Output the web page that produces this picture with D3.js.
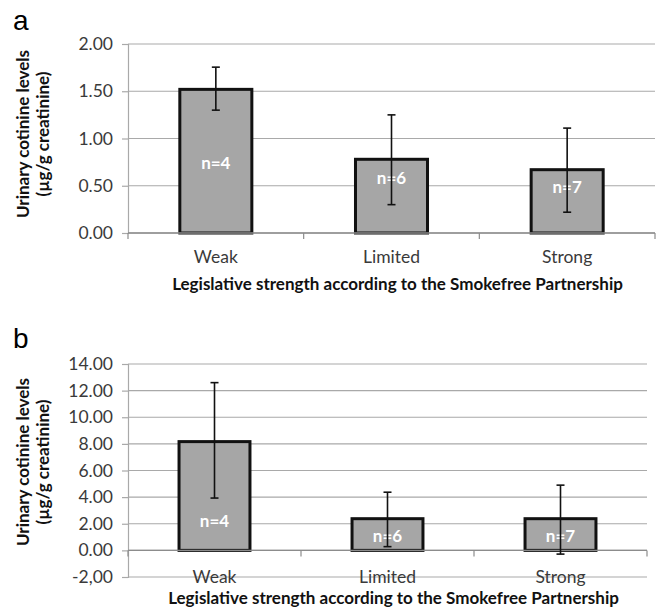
<!DOCTYPE html>
<html>
<head>
<meta charset="utf-8">
<script src="https://cdn.jsdelivr.net/npm/d3@7"></script>
<style>
  html, body { margin: 0; padding: 0; background: #fff; }
  svg { display: block; }
  text { font-family: Lato, "Open Sans", sans-serif; }
</style>
</head>
<body>
<svg id="chart" width="660" height="608"></svg>
<script>
// Urinary cotinine by legislative strength (two panels)
const categories = ["Weak", "Limited", "Strong"];
const sampleLabels = ["n=4", "n=6", "n=7"];

// Panel a
const meansA = [1.52, 0.78, 0.67];
const upperA = [1.755, 1.25, 1.11];
const lowerA = [1.30, 0.30, 0.22];
const labelAtA = [0.74, 0.58, 0.49];
const tickValuesA = [0, 0.5, 1, 1.5, 2];
const tickLabelsA = ["0.00", "0.50", "1.00", "1.50", "2.00"];

// Panel b
const meansB = [8.17, 2.38, 2.38];
const upperB = [12.6, 4.37, 4.9];
const lowerB = [3.93, 0.28, -0.28];
const labelAtB = [2.2, 1.07, 1.07];
const tickValuesB = [-2, 0, 2, 4, 6, 8, 10, 12, 14];
const tickLabelsB = ["-2,00", "0.00", "2.00", "4.00", "6.00", "8.00", "10.00", "12.00", "14.00"];

const yTitle1 = "Urinary cotinine levels";
const yTitle2 = "(\u00b5g/g creatinine)";
const xTitle = "Legislative strength according to the Smokefree Partnership";

const svg = d3.select("#chart");

function drawPanel(opt) {
  const g = svg.append("g");
  const x = d3.scaleBand().domain(categories)
    .range([opt.left, opt.right])
    .paddingInner(0.59).paddingOuter(0.295);
  const y = d3.scaleLinear().domain(opt.domain).range([opt.bottom, opt.top]);

  // gridlines
  g.append("g").selectAll("line").data(opt.ticks).join("line")
    .attr("x1", opt.left).attr("x2", opt.right)
    .attr("y1", d => y(d)).attr("y2", d => y(d))
    .attr("stroke", "#a9a9a9").attr("stroke-width", 1.2);

  // value axis
  const yAxis = d3.axisLeft(y).tickValues(opt.ticks).tickSize(6).tickPadding(9)
    .tickFormat((d, i) => opt.tickLabels[i]);
  const ya = g.append("g").attr("transform", `translate(${opt.left},0)`).call(yAxis);
  ya.select(".domain").attr("stroke", "#a9a9a9").attr("stroke-width", 1.2);
  ya.selectAll(".tick line").attr("stroke", "#a9a9a9").attr("stroke-width", 1.2);
  ya.selectAll(".tick text").attr("fill", "#3a3a3a")
    .style("font-size", "17.5px").style("font-family", "Lato, sans-serif");

  // bars
  g.append("g").selectAll("rect").data(categories).join("rect")
    .attr("x", d => x(d))
    .attr("width", x.bandwidth())
    .attr("y", (d, i) => y(opt.means[i]))
    .attr("height", (d, i) => y(0) - y(opt.means[i]))
    .attr("fill", "#a6a6a6")
    .attr("stroke", "#111").attr("stroke-width", 3);

  // category axis at zero
  const y0 = y(0);
  g.append("line").attr("x1", opt.left).attr("x2", opt.right)
    .attr("y1", y0).attr("y2", y0)
    .attr("stroke", "#8c8c8c").attr("stroke-width", 1.4);
  const bounds = d3.range(categories.length + 1).map(i => opt.left + i * x.step());
  g.append("g").selectAll("line").data(bounds).join("line")
    .attr("x1", d => d).attr("x2", d => d)
    .attr("y1", y0).attr("y2", y0 + 6)
    .attr("stroke", "#8c8c8c").attr("stroke-width", 1.2);

  // sample size labels
  g.append("g").selectAll("text").data(sampleLabels).join("text")
    .attr("x", (d, i) => x(categories[i]) + x.bandwidth() / 2)
    .attr("y", (d, i) => y(opt.labelAt[i]))
    .attr("dy", "0.35em")
    .attr("text-anchor", "middle")
    .attr("fill", "#fff")
    .style("font-size", "17px").style("font-weight", "bold")
    .text(d => d);

  // error bars
  const eb = g.append("g").attr("stroke", "#111").attr("stroke-width", 1.6);
  categories.forEach((c, i) => {
    const cx = x(c) + x.bandwidth() / 2;
    eb.append("line").attr("x1", cx).attr("x2", cx)
      .attr("y1", y(opt.upper[i])).attr("y2", y(opt.lower[i]));
    [opt.upper[i], opt.lower[i]].forEach(v => {
      eb.append("line").attr("x1", cx - 4).attr("x2", cx + 4)
        .attr("y1", y(v)).attr("y2", y(v));
    });
  });

  // category labels
  g.append("g").selectAll("text").data(categories).join("text")
    .attr("x", d => x(d) + x.bandwidth() / 2)
    .attr("y", opt.catLabelY)
    .attr("text-anchor", "middle")
    .attr("fill", "#3a3a3a")
    .style("font-size", "17.5px")
    .text(d => d);

  // axis titles
  g.append("text")
    .attr("x", (opt.left + opt.right) / 2 + 6)
    .attr("y", opt.xTitleY)
    .attr("text-anchor", "middle")
    .attr("fill", "#111")
    .style("font-size", "17px").style("font-weight", "bold")
    .text(xTitle);

  const cy = opt.yTitleCenter;
  g.append("text")
    .attr("transform", `translate(29,${cy}) rotate(-90)`)
    .attr("text-anchor", "middle")
    .attr("fill", "#111")
    .style("font-size", "17px").style("font-weight", "bold")
    .text(yTitle1);
  g.append("text")
    .attr("transform", `translate(49,${cy}) rotate(-90)`)
    .attr("text-anchor", "middle")
    .attr("fill", "#111")
    .style("font-size", "17px").style("font-weight", "bold")
    .text(yTitle2);

  // panel letter
  g.append("text")
    .attr("x", opt.letterX).attr("y", opt.letterY)
    .attr("fill", "#000")
    .style("font-family", "'Liberation Sans', Arial, sans-serif")
    .style("font-size", "28px")
    .text(opt.letter);
}

drawPanel({
  letter: "a", letterX: 13, letterY: 30,
  left: 128, right: 655, top: 44, bottom: 233,
  domain: [0, 2], ticks: tickValuesA, tickLabels: tickLabelsA,
  means: meansA, upper: upperA, lower: lowerA, labelAt: labelAtA,
  catLabelY: 263, xTitleY: 290, yTitleCenter: 134
});

drawPanel({
  letter: "b", letterX: 13, letterY: 348,
  left: 128, right: 647, top: 364, bottom: 577,
  domain: [-2, 14], ticks: tickValuesB, tickLabels: tickLabelsB,
  means: meansB, upper: upperB, lower: lowerB, labelAt: labelAtB,
  catLabelY: 583, xTitleY: 604, yTitleCenter: 462
});
</script>
</body>
</html>
